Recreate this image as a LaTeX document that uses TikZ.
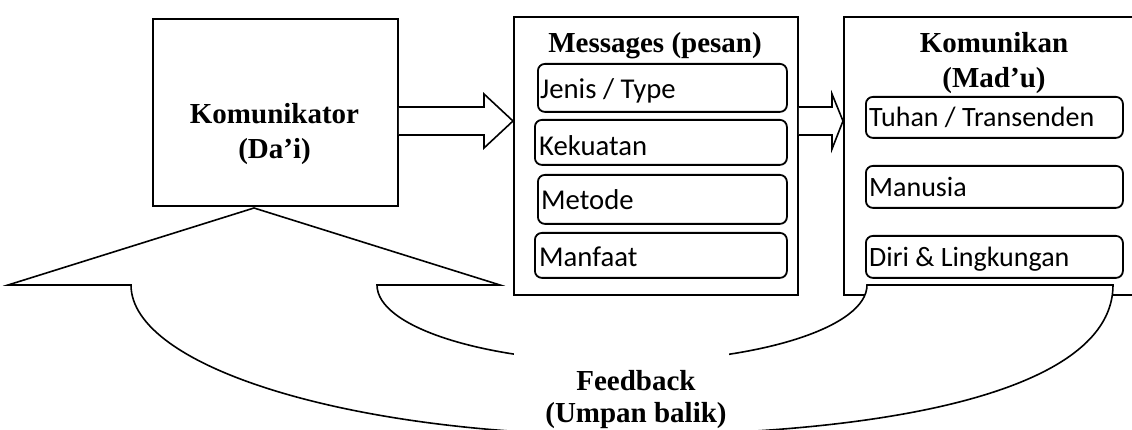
\documentclass[tikz,border=0pt]{standalone}
\usepackage{fontspec}
\setmainfont{Liberation Serif}
\newfontfamily\calfont{Carlito}
\usetikzlibrary{calc}
\begin{document}
\begin{tikzpicture}[x=1pt,y=-1pt,
  outerbox/.style={draw, line width=1.8pt, inner sep=0pt, anchor=north west},
  itembox/.style={draw, line width=1.8pt, rounded corners=7pt, inner sep=0pt, anchor=north west},
  titletext/.style={font=\fontsize{29}{35}\selectfont\bfseries, anchor=base, inner sep=0pt},
  itemtext/.style={font=\fontsize{28.7}{34}\selectfont\calfont, anchor=base west, inner sep=0pt},
  itemtextk/.style={font=\fontsize{28}{34}\selectfont\calfont, anchor=base west, inner sep=0pt},
  blockarrow/.style={draw, fill=white, line width=1.6pt, line join=miter},
]
\clip (0,0) rectangle (1132,430);
\fill[white] (0,0) rectangle (1132,430);

% main boxes
\node[outerbox, minimum width=245pt, minimum height=187pt] (kom) at (152,18) {};
\node[outerbox, minimum width=284pt, minimum height=278.5pt] (msg) at (513,16) {};
\node[outerbox, minimum width=330pt, minimum height=278pt] (cmn) at (843,16) {};

% titles
\node[titletext] (kt1) at (274.5,124) {Komunikator};
\node[titletext] (kt2) at (274.5,159) {(Da’i)};
\node[titletext] (mt) at (655,53) {Messages (pesan)};
\node[titletext] (ct1) at (994,53) {Komunikan};
\node[titletext] (ct2) at (994,88) {(Mad’u)};

% message items
\node[itembox, minimum width=249pt, minimum height=48pt] (m1) at (537,63) {};
\node[itembox, minimum width=252pt, minimum height=45pt] (m2) at (534,119) {};
\node[itembox, minimum width=249pt, minimum height=49pt] (m3) at (537,174) {};
\node[itembox, minimum width=252pt, minimum height=45pt] (m4) at (534,232) {};
\node[itemtext] (mt1) at (540,99) {Jenis / Type};
\node[itemtext] (mt2) at (539,156) {Kekuatan};
\node[itemtext] (mt3) at (541,210) {Metode};
\node[itemtext] (mt4) at (539,267) {Manfaat};

% komunikan items
\node[itembox, minimum width=257pt, minimum height=41pt] (k1) at (865,96) {};
\node[itembox, minimum width=257pt, minimum height=42pt] (k2) at (865,165) {};
\node[itembox, minimum width=257pt, minimum height=42pt] (k3) at (865,235) {};
\node[itemtextk] (kx1) at (869,127) {Tuhan / Transenden};
\node[itemtextk] (kx2) at (869,197) {Manusia};
\node[itemtextk] (kx3) at (869,267) {Diri \& Lingkungan};

% block arrows
\draw[blockarrow] (kom.east |- 0,107) -- (484,107) -- (484,94) -- (msg.west |- 0,121)
  -- (484,148) -- (484,135) -- (kom.east |- 0,135);
\draw[blockarrow] (msg.east |- 0,107) -- (832,107) -- (832,94) -- (cmn.west |- 0,121)
  -- (832,149) -- (832,135) -- (msg.east |- 0,135);

% feedback curved arrow
\coordinate (fbtip) at (254,208);
\draw[blockarrow] (131,285) -- (8,285) -- (fbtip) -- (500,285) -- (377,285)
  .. controls (377,327.5) and (486.8,362) .. (622,362)
  .. controls (757.2,362) and (867,327.5) .. (867,285)
  -- (1113,285)
  .. controls (1113,390) and (893,435) .. (622,435)
  .. controls (351,435) and (131,367) .. (131,285) -- cycle;

% feedback label
\node[fill=white, inner sep=0pt, minimum width=215pt, minimum height=85pt, anchor=north west] (fbbox) at (514,347) {};
\node[titletext] (f1) at (636,390) {Feedback};
\node[titletext] (f2) at (636,422) {(Umpan balik)};
\end{tikzpicture}
\end{document}
